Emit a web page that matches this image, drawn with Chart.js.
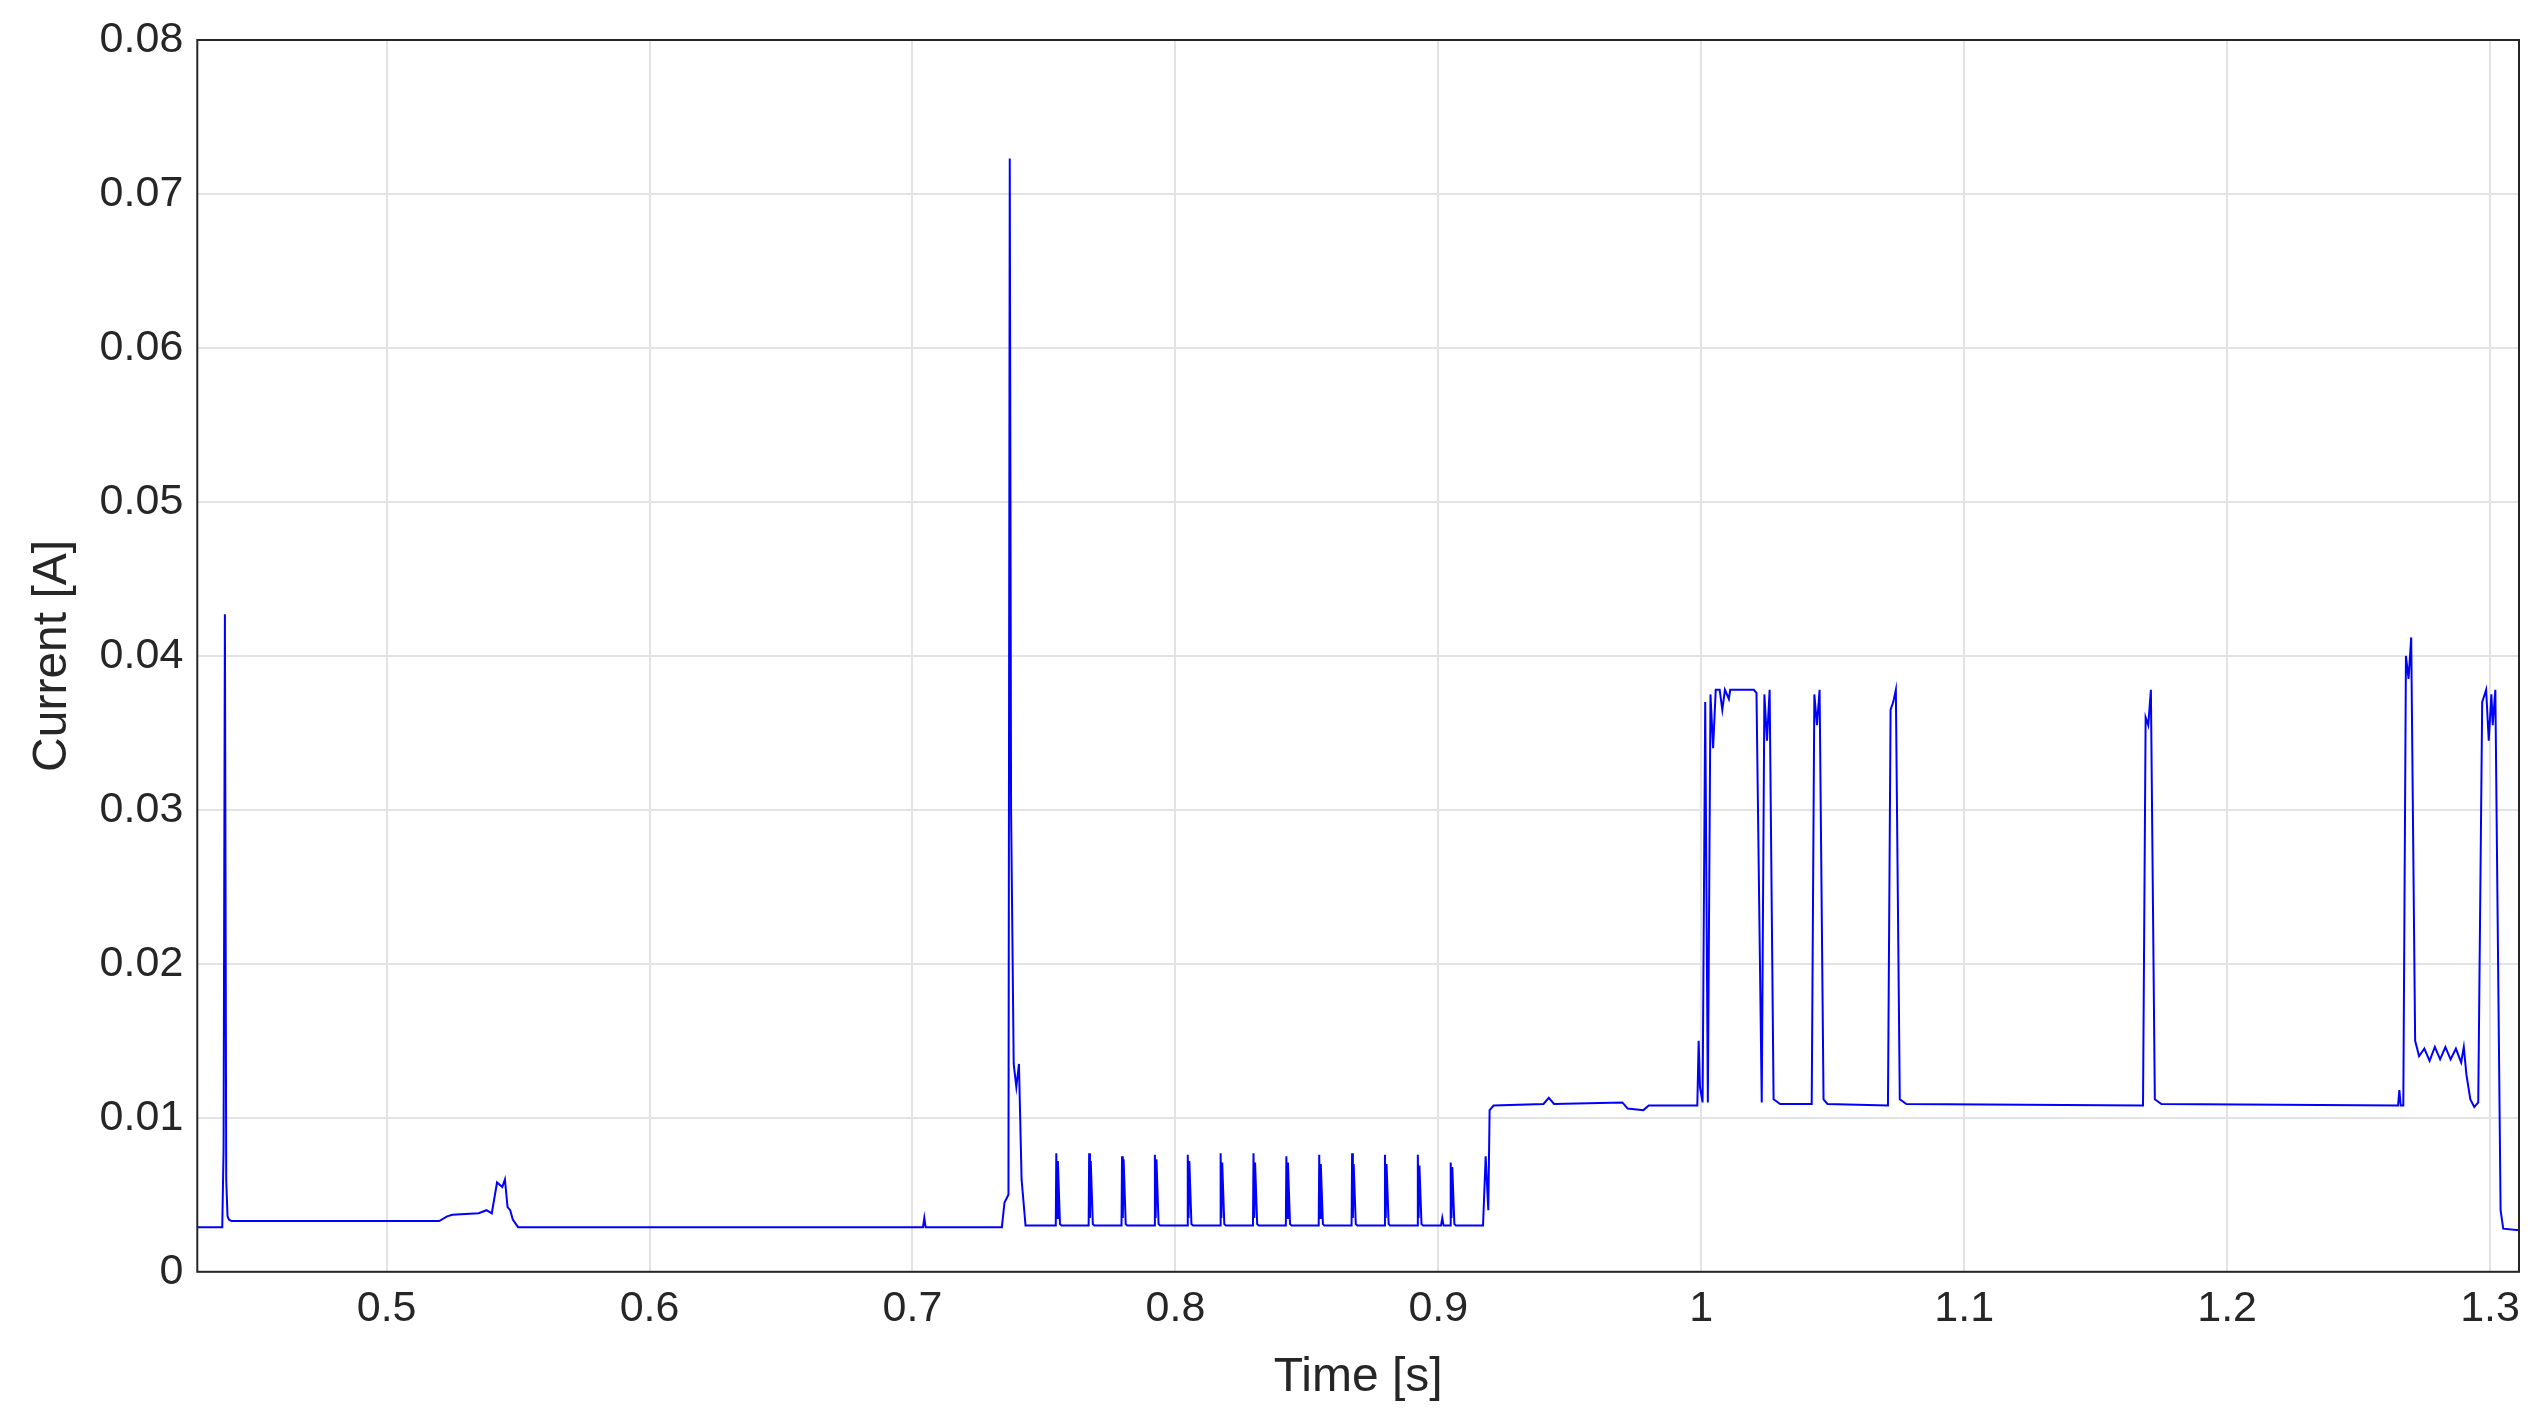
<!DOCTYPE html>
<html>
<head>
<meta charset="utf-8">
<script src="https://cdn.jsdelivr.net/npm/chart.js@4"></script>
<style>
  html, body { margin: 0; padding: 0; background: #fff; }
  #wrap { width: 2545px; height: 1421px; }
</style>
</head>
<body>
<div id="wrap"><canvas id="currentChart"></canvas></div>
<script>
'use strict';

// time [s] and current [A]
let timeS = [
  0.428, 0.4375, 0.4380, 0.4385, 0.4390, 0.4395, 0.4400, 0.4410, 0.4430,
  0.460, 0.480, 0.500, 0.520, 0.5230, 0.5250, 0.5350, 0.5380, 0.5400, 0.5420, 0.5440, 0.5450, 0.5460,
  0.5470, 0.5480, 0.5500, 0.580, 0.620, 0.660, 0.700, 0.7040, 0.7045, 0.7050, 0.7340,
  0.7350, 0.7365, 0.7370, 0.7375, 0.7385, 0.7395, 0.7405, 0.7415, 0.7430
];
let currentA = [
  0.0029, 0.0029, 0.0080, 0.0427, 0.0060, 0.0036, 0.0034, 0.0033, 0.0033,
  0.0033, 0.0033, 0.0033, 0.0033, 0.0036, 0.0037, 0.0038, 0.0040, 0.0038, 0.0058, 0.0055, 0.0060, 0.0042,
  0.0040, 0.0034, 0.0029, 0.0029, 0.0029, 0.0029, 0.0029, 0.0029, 0.0035, 0.0029, 0.0029,
  0.0045, 0.0050, 0.0723, 0.0300, 0.0135, 0.0120, 0.0135, 0.0060, 0.0030
];

// periodic pulses between 0.74 and 0.92 s (start time, peak, second peak)
let pulseStart = [0.7545, 0.7670, 0.7795, 0.7920, 0.8045, 0.8170, 0.8295, 0.8420, 0.8545, 0.8670, 0.8795, 0.8920, 0.9045];
let pulsePeak = [0.0077, 0.0077, 0.0075, 0.0076, 0.0076, 0.0077, 0.0077, 0.0075, 0.0076, 0.0077, 0.0076, 0.0076, 0.0071];
let pulseSecond = [0.0072, 0.0072, 0.0073, 0.0073, 0.0072, 0.0071, 0.0071, 0.0071, 0.0070, 0.0070, 0.0070, 0.0069, 0.0068];

let tail = [
  [0.9010, 0.0030], [0.9015, 0.0035], [0.9020, 0.0030],
  [0.9170, 0.0030], [0.9180, 0.0075], [0.9190, 0.0040], [0.9195, 0.0105], [0.9210, 0.0108],
  [0.9400, 0.0109], [0.9420, 0.0113], [0.9440, 0.0109], [0.9700, 0.0110], [0.9720, 0.0106],
  [0.9780, 0.0105], [0.9800, 0.0108], [0.9985, 0.0108], [0.9990, 0.0150], [0.9995, 0.0120],
  [1.0005, 0.0110], [1.0015, 0.0370], [1.0025, 0.0110], [1.0035, 0.0375], [1.0045, 0.0340],
  [1.0055, 0.0378], [1.0070, 0.0378], [1.0080, 0.0365], [1.0090, 0.0378], [1.0105, 0.0372],
  [1.0110, 0.0378], [1.0200, 0.0378], [1.0210, 0.0376], [1.0230, 0.0110], [1.0240, 0.0375],
  [1.0250, 0.0345], [1.0260, 0.0378], [1.0275, 0.0112], [1.0300, 0.0109], [1.0420, 0.0109],
  [1.0430, 0.0375], [1.0440, 0.0355], [1.0450, 0.0378], [1.0465, 0.0112], [1.0480, 0.0109],
  [1.0710, 0.0108], [1.0720, 0.0365], [1.0730, 0.0370], [1.0740, 0.0378], [1.0755, 0.0112],
  [1.0780, 0.0109], [1.1680, 0.0108], [1.1690, 0.0360], [1.1700, 0.0355], [1.1710, 0.0378],
  [1.1725, 0.0112], [1.1750, 0.0109], [1.2650, 0.0108], [1.2655, 0.0118], [1.2660, 0.0108],
  [1.2670, 0.0108], [1.2680, 0.0400], [1.2690, 0.0385], [1.2700, 0.0412], [1.2715, 0.0150],
  [1.2730, 0.0140], [1.2750, 0.0145], [1.2770, 0.0137], [1.2790, 0.0146], [1.2810, 0.0138],
  [1.2830, 0.0146], [1.2850, 0.0138], [1.2870, 0.0145], [1.2890, 0.0136], [1.2900, 0.0146],
  [1.2910, 0.0128], [1.2925, 0.0112], [1.2940, 0.0107], [1.2955, 0.0110], [1.2970, 0.0370],
  [1.2985, 0.0378], [1.2995, 0.0345], [1.3005, 0.0375], [1.3010, 0.0355], [1.3020, 0.0378],
  [1.3040, 0.0040], [1.3050, 0.0028], [1.3110, 0.0027]
];

function buildPoints() {
  let points = [];
  for (let i = 0; i < timeS.length; i++) {
    points.push({ x: timeS[i], y: currentA[i] });
  }
  for (let i = 0; i < pulseStart.length; i++) {
    let t = pulseStart[i];
    points.push({ x: t - 0.0050, y: 0.0030 });
    points.push({ x: t, y: 0.0030 });
    points.push({ x: t + 0.0002, y: pulsePeak[i] });
    points.push({ x: t + 0.0005, y: 0.0035 });
    points.push({ x: t + 0.0008, y: pulseSecond[i] });
    points.push({ x: t + 0.0016, y: 0.0031 });
    points.push({ x: t + 0.0022, y: 0.0030 });
  }
  tail.forEach(function (p) {
    points.push({ x: p[0], y: p[1] });
  });
  points.sort(function (a, b) { return a.x - b.x; });
  return points;
}

let xTicks = [0.5, 0.6, 0.7, 0.8, 0.9, 1.0, 1.1, 1.2, 1.3];
let yTicks = [0, 0.01, 0.02, 0.03, 0.04, 0.05, 0.06, 0.07, 0.08];

let boxPlugin = {
  id: 'box',
  afterDraw: function (chart) {
    let a = chart.chartArea;
    let c = chart.ctx;
    c.save();
    c.strokeStyle = '#262626';
    c.lineWidth = 2;
    c.strokeRect(a.left, a.top, a.right - a.left, a.bottom - a.top);
    c.restore();
  }
};

Chart.defaults.font.family = '"Liberation Sans", Arial, sans-serif';
Chart.defaults.color = '#262626';

new Chart(document.getElementById('currentChart').getContext('2d'), {
  type: 'scatter',
  data: {
    datasets: [{
      data: buildPoints(),
      showLine: true,
      borderColor: '#0000ff',
      borderWidth: 2,
      pointRadius: 0,
      tension: 0
    }]
  },
  options: {
    responsive: true,
    maintainAspectRatio: false,
    animation: false,
    layout: { padding: { left: 20, right: 26, top: 40, bottom: 10 } },
    plugins: { legend: { display: false }, tooltip: { enabled: false } },
    scales: {
      x: {
        type: 'linear',
        min: 0.428,
        max: 1.311,
        afterBuildTicks: function (scale) {
          scale.ticks = xTicks.map(function (v) { return { value: v }; });
        },
        ticks: {
          font: { size: 43 },
          padding: 12,
          maxRotation: 0,
          callback: function (v) { return String(Math.round(v * 10) / 10); }
        },
        grid: { color: '#e3e3e3', lineWidth: 2, tickLength: 0 },
        border: { display: false },
        title: { display: true, text: 'Time [s]', font: { size: 48 }, padding: { top: 2 } }
      },
      y: {
        min: 0,
        max: 0.08,
        afterBuildTicks: function (scale) {
          scale.ticks = yTicks.map(function (v) { return { value: v }; });
        },
        ticks: {
          font: { size: 43 },
          padding: 14,
          callback: function (v) { return v === 0 ? '0' : v.toFixed(2); }
        },
        grid: { color: '#e3e3e3', lineWidth: 2, tickLength: 0 },
        border: { display: false },
        title: { display: true, text: 'Current [A]', font: { size: 48 }, padding: { bottom: 4 } }
      }
    }
  },
  plugins: [boxPlugin]
});
</script>
</body>
</html>
